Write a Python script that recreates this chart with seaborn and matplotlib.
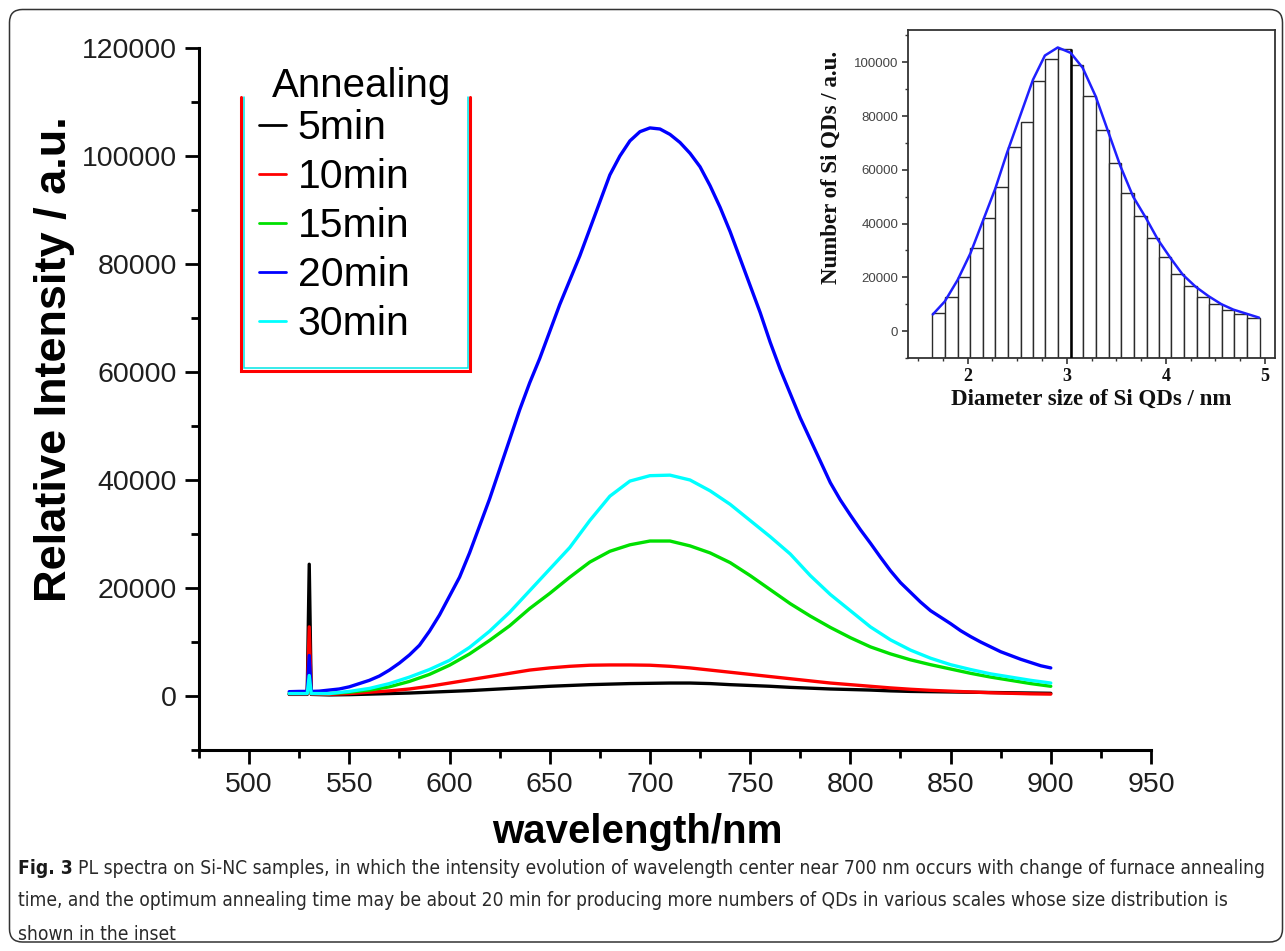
import numpy as np
import pandas as pd
import matplotlib
matplotlib.use("Agg")
import matplotlib.pyplot as plt
import seaborn as sns
from matplotlib.ticker import MultipleLocator, StrMethodFormatter
from matplotlib.lines import Line2D
from matplotlib.patches import FancyBboxPatch
from matplotlib.transforms import IdentityTransform

# ---------------- PL spectra (nm, a.u.) ----------------
wl = [520, 529, 530, 531, 540, 550, 560, 570, 580, 590, 600, 610, 620, 630, 640,
      650, 660, 670, 680, 690, 700, 710, 720, 730, 740, 750, 760, 770, 780, 790,
      800, 810, 820, 830, 840, 850, 860, 870, 880, 890, 900]

pl_5min = [300, 300, 24400, 300, 200, 250, 350, 450, 550, 700, 850, 1000, 1200, 1400, 1600,
           1800, 1950, 2100, 2200, 2300, 2350, 2400, 2400, 2300, 2100, 1950, 1800, 1600, 1450, 1300,
           1200, 1100, 950, 850, 800, 750, 700, 650, 600, 550, 500]

pl_10min = [400, 400, 12800, 400, 300, 450, 700, 950, 1300, 1800, 2400, 3000, 3600, 4200, 4800,
            5200, 5500, 5700, 5750, 5750, 5700, 5500, 5200, 4800, 4400, 4000, 3600, 3200, 2800, 2400,
            2100, 1800, 1500, 1250, 1050, 900, 750, 600, 500, 400, 350]

pl_15min = [500, 500, 5000, 500, 450, 700, 1100, 1700, 2700, 4000, 5700, 7800, 10300, 13000, 16200,
            19000, 22000, 24800, 26800, 28000, 28700, 28700, 27800, 26500, 24700, 22300, 19700, 17100, 14800, 12700,
            10800, 9100, 7800, 6700, 5800, 5000, 4200, 3500, 2900, 2300, 1800]

pl_30min = [450, 450, 3800, 450, 450, 850, 1400, 2300, 3500, 4900, 6600, 9000, 12000, 15500, 19500,
            23500, 27500, 32500, 37000, 39800, 40800, 40900, 40000, 38000, 35500, 32500, 29500, 26300, 22300, 18800,
            15800, 12800, 10400, 8500, 7000, 5800, 4900, 4100, 3500, 2900, 2400]

wl_20 = [520, 525, 529, 530, 531, 535, 540, 545, 550, 555, 560, 565, 570, 575, 580,
         585, 590, 595, 600, 605, 610, 615, 620, 625, 630, 635, 640, 645, 650, 655,
         660, 665, 670, 675, 680, 685, 690, 695, 700, 705, 710, 715, 720, 725, 730,
         735, 740, 745, 750, 755, 760, 765, 770, 775, 780, 785, 790, 795, 800, 805,
         810, 815, 820, 825, 830, 835, 840, 845, 850, 855, 860, 865, 870, 875, 880,
         885, 890, 895, 900]

pl_20min = [800, 850, 850, 7500, 850, 900, 1100, 1300, 1700, 2300, 2900, 3700, 4800, 6100, 7600,
            9400, 12000, 15000, 18500, 22000, 26500, 31500, 36500, 42000, 47500, 53000, 58000, 62500, 67500, 72500,
            77000, 81500, 86500, 91500, 96500, 100000, 102800, 104500, 105200, 105000, 104000, 102500, 100500, 98000, 94500,
            90500, 86000, 81000, 76000, 71000, 65500, 60500, 56000, 51500, 47500, 43500, 39500, 36300, 33500, 30800,
            28300, 25700, 23200, 21000, 19200, 17400, 15800, 14600, 13400, 12100, 11000, 10000, 9100, 8200, 7500,
            6800, 6200, 5600, 5200]

series_names = ["5min", "10min", "15min", "20min", "30min"]
series_colors = ["#000000", "#FF0000", "#00E000", "#0000FF", "#00FFFF"]

# ---------------- Size distribution (inset) ----------------
diameter = [1.71, 1.84, 1.96, 2.09, 2.22, 2.34, 2.47, 2.60, 2.72, 2.85, 2.98, 3.10, 3.23,
            3.36, 3.49, 3.61, 3.74, 3.87, 3.99, 4.12, 4.25, 4.37, 4.50, 4.63, 4.75, 4.88]
qd_count = [6800, 12600, 20100, 30900, 42200, 53700, 68300, 77800, 93200, 101200, 104900, 98800, 87300,
            74700, 62600, 51200, 42800, 34600, 27500, 21400, 16900, 12600, 9900, 8000, 6200, 4900]

fit_diameter = [1.65, 1.77, 1.90, 2.03, 2.15, 2.28, 2.40, 2.53, 2.66, 2.78, 2.91, 3.04, 3.16, 3.29,
                3.42, 3.54, 3.67, 3.80, 3.92, 4.05, 4.17, 4.30, 4.43, 4.56, 4.68, 4.81, 4.94]
fit_count = [6200, 11000, 19000, 29000, 40500, 53000, 66500, 80000, 93500, 102500, 105500, 103500, 98000, 87500,
             74000, 61500, 50000, 42000, 34000, 27000, 21000, 16500, 13000, 10000, 8000, 6500, 5000]

# ---------------- Style ----------------
sns.set_style("ticks")
plt.rcParams["font.family"] = ["Liberation Sans", "DejaVu Sans"]
plt.rcParams["axes.linewidth"] = 2.2

W, H = 1285, 951
fig = plt.figure(figsize=(W / 100, H / 100), dpi=100)
fig.patch.set_facecolor("white")


def fx(px):
    return px / W


def fy(py):
    return 1 - py / H


# ---------------- Main spectra ----------------
frames = []
for name, x, y in [("5min", wl, pl_5min), ("10min", wl, pl_10min), ("15min", wl, pl_15min),
                   ("20min", wl_20, pl_20min), ("30min", wl, pl_30min)]:
    frames.append(pd.DataFrame({"wavelength": x, "intensity": y, "time": name}))
spectra = pd.concat(frames, ignore_index=True)

ax = fig.add_axes([fx(199), fy(750), fx(1151) - fx(199), fy(48) - fy(750)])
sns.lineplot(data=spectra, x="wavelength", y="intensity", hue="time",
             hue_order=series_names, palette=dict(zip(series_names, series_colors)),
             estimator=None, sort=False, linewidth=2.4, ax=ax, legend=True)

ax.set_xlim(475, 950)
ax.set_ylim(-10000, 120000)
ax.xaxis.set_major_locator(MultipleLocator(50))
ax.xaxis.set_minor_locator(MultipleLocator(25))
ax.yaxis.set_major_locator(MultipleLocator(20000))
ax.yaxis.set_minor_locator(MultipleLocator(10000))
ax.yaxis.set_major_formatter(StrMethodFormatter("{x:.0f}"))
for s in ("top", "right"):
    ax.spines[s].set_visible(False)
for s in ("left", "bottom"):
    ax.spines[s].set_color("black")
    ax.spines[s].set_linewidth(2.2)
ax.tick_params(which="major", direction="out", length=10, width=2.0, color="black",
               labelsize=20.5, labelcolor="#1e1e1e", pad=6)
ax.tick_params(which="minor", direction="out", length=5.5, width=2.0, color="black")
ax.set_xlabel("wavelength/nm", fontsize=29, fontweight="bold", color="black")
ax.set_ylabel("Relative Intensity / a.u.", fontsize=32.5, fontweight="bold", color="black")
ax.xaxis.set_label_coords(0.4606, -0.0897)
ax.yaxis.set_label_coords(-0.130, 0.557)

# legend: title set as its own text, entries below it
fig.text(fx(362), fy(86), "Annealing", fontsize=29, color="black", ha="center", va="center")
handles, labels = ax.get_legend_handles_labels()
leg = ax.legend(handles, labels, loc="upper left",
                bbox_to_anchor=(fx(259), fy(109)), bbox_transform=fig.transFigure,
                frameon=False, fontsize=29.5, handlelength=0.66,
                handletextpad=0.28, labelspacing=0.27, borderpad=0, borderaxespad=0)
for h in leg.legend_handles:
    h.set_linewidth(2.0)
for t in leg.get_texts():
    t.set_color("black")

# open legend box (red with inner cyan rule)
fig.add_artist(Line2D([fx(241), fx(241), fx(470.5), fx(470.5)], [fy(97), fy(370.5), fy(370.5), fy(97)],
                      color="#FF0000", linewidth=2.2, solid_joinstyle="miter"))
fig.add_artist(Line2D([fx(243.5), fx(243.5), fx(468), fx(468)], [fy(97), fy(368), fy(368), fy(97)],
                      color="#00E5E5", linewidth=1.1, solid_joinstyle="miter"))

# ---------------- Inset: size distribution ----------------
axin = fig.add_axes([fx(908), fy(358), fx(1275) - fx(908), fy(30) - fy(358)])
d = np.asarray(diameter)
edges = np.concatenate([[d[0] - (d[1] - d[0]) / 2], (d[1:] + d[:-1]) / 2, [d[-1] + (d[-1] - d[-2]) / 2]])
sizes = pd.DataFrame({"diameter": diameter, "count": qd_count})
sns.histplot(data=sizes, x="diameter", weights="count", bins=[float(e) for e in edges],
             color="white", edgecolor="#2b2b2b", linewidth=1.0, alpha=1.0, ax=axin)
y_floor = -10000
for p in axin.patches:
    top = p.get_y() + p.get_height()
    p.set_y(y_floor)
    p.set_height(top - y_floor)
# heavier rule at the modal bin edge
axin.vlines(edges[11], y_floor, qd_count[10], color="black", linewidth=1.8, zorder=3)
sns.lineplot(x=fit_diameter, y=fit_count, color="#1f1fff", linewidth=1.8, ax=axin, zorder=4)

axin.set_xlim(1.4, 5.1)
axin.set_ylim(-10000, 112000)
axin.xaxis.set_major_locator(MultipleLocator(1))
axin.xaxis.set_minor_locator(MultipleLocator(0.25))
axin.yaxis.set_major_locator(MultipleLocator(20000))
axin.yaxis.set_minor_locator(MultipleLocator(10000))
axin.yaxis.set_major_formatter(StrMethodFormatter("{x:.0f}"))
for s in axin.spines.values():
    s.set_linewidth(1.3)
    s.set_color("#333333")
axin.tick_params(which="major", direction="out", length=4, width=1.2, color="#333333", pad=3)
axin.tick_params(which="minor", direction="out", length=2.5, width=1.0, color="#333333")
axin.tick_params(axis="y", labelsize=9.5, labelcolor="#444444")
axin.tick_params(axis="x", labelsize=13, labelcolor="#111111")
for t in axin.get_xticklabels():
    t.set_fontfamily("Liberation Serif")
    t.set_fontweight("bold")
axin.set_xlabel("Diameter size of Si QDs / nm", fontsize=16.5, fontweight="bold",
                fontfamily="Liberation Serif", color="#111111")
axin.set_ylabel("Number of Si QDs / a.u.", fontsize=16.5, fontweight="bold",
                fontfamily="Liberation Serif", color="#111111")
axin.xaxis.set_label_coords(0.5, -0.095)
axin.yaxis.set_label_coords(-0.180, 0.58)

# ---------------- Frame and caption ----------------
fig.add_artist(FancyBboxPatch((9.5, H - 942), 1273, 932.5, boxstyle="round,pad=0,rounding_size=13",
                              transform=IdentityTransform(), facecolor="none", edgecolor="#333333",
                              linewidth=1.1, zorder=0))

cap_lines = [
    "PL spectra on Si-NC samples, in which the intensity evolution of wavelength center near 700 nm occurs with change of furnace annealing",
    "time, and the optimum annealing time may be about 20 min for producing more numbers of QDs in various scales whose size distribution is",
    "shown in the inset",
]
cap_y = [868, 901, 934]
cap_x0 = 18
target_w = 1272 - cap_x0


def draw_caption(size):
    arts = []
    t0 = fig.text(fx(cap_x0), fy(cap_y[0]), "Fig. 3", fontsize=size, fontweight="bold",
                  fontfamily="DejaVu Sans", fontstretch="condensed", color="#1a1a1a", va="center")
    arts.append(t0)
    fig.canvas.draw()
    r = fig.canvas.get_renderer()
    w0 = t0.get_window_extent(r).width
    gap = size * 0.35
    t1 = fig.text(fx(cap_x0 + w0 + gap), fy(cap_y[0]), cap_lines[0], fontsize=size,
                  fontfamily="DejaVu Sans", fontstretch="condensed", color="#2a2a2a", va="center")
    arts.append(t1)
    for ln, yy in zip(cap_lines[1:], cap_y[1:]):
        arts.append(fig.text(fx(cap_x0), fy(yy), ln, fontsize=size, fontfamily="DejaVu Sans",
                             fontstretch="condensed", color="#2a2a2a", va="center"))
    fig.canvas.draw()
    total = w0 + gap + t1.get_window_extent(r).width
    return arts, total


size = 14.0
arts, total = draw_caption(size)
if abs(total - target_w) > 2:
    for a in arts:
        a.remove()
    size *= target_w / total
    arts, total = draw_caption(size)

fig.savefig("out.png", dpi=100, facecolor="white")
